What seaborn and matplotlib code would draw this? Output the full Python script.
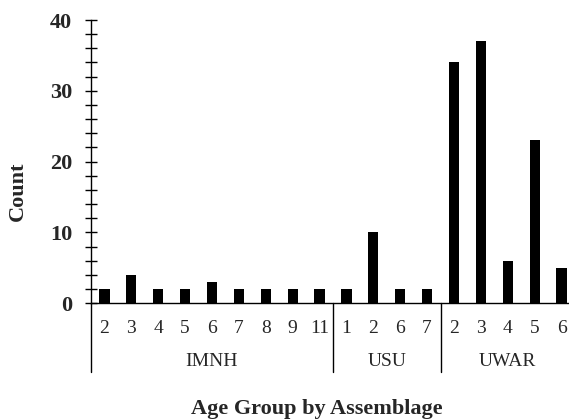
import matplotlib
matplotlib.use("Agg")
import matplotlib.pyplot as plt
import matplotlib.transforms as mtransforms
import seaborn as sns
import pandas as pd

# Counts per age group, split by assemblage
imnh_ages = ["2", "3", "4", "5", "6", "7", "8", "9", "11"]
imnh_counts = [2, 4, 2, 2, 3, 2, 2, 2, 2]
usu_ages = ["1", "2", "6", "7"]
usu_counts = [2, 10, 2, 2]
uwar_ages = ["2", "3", "4", "5", "6"]
uwar_counts = [34, 37, 6, 23, 5]

groups = [("IMNH", imnh_ages, imnh_counts),
          ("USU", usu_ages, usu_counts),
          ("UWAR", uwar_ages, uwar_counts)]

rows = []
for name, ages, counts in groups:
    for a, c in zip(ages, counts):
        rows.append({"key": f"{name} {a}", "age": a, "group": name, "count": c})
df = pd.DataFrame(rows)

sns.set_theme(style="white")
plt.rcParams["font.family"] = ["Liberation Serif", "DejaVu Serif"]

fig = plt.figure(figsize=(5.69, 4.2), dpi=100)
W, H = 569, 420
left, right, bottom, top = 91, 575, 303.3, 20
ax = fig.add_axes([left / W, 1 - bottom / H, (right - left) / W, (bottom - top) / H])

sns.barplot(data=df, x="key", y="count", order=list(df["key"]), color="black",
            width=0.38, saturation=1, ax=ax, edgecolor="none")

ax.set_xlim(-0.5, len(df) - 0.5)
ax.set_ylim(0, 40)
ax.set_yticks([0, 10, 20, 30, 40])
ax.set_yticks(range(0, 41, 2), minor=True)
ax.set_xticks(range(len(df)))
ax.set_xticklabels(df["age"], fontsize=14)
ax.set_yticklabels(["0", "10", "20", "30", "40"], fontsize=16, fontweight="bold")

for s in ["top", "right"]:
    ax.spines[s].set_visible(False)
for s in ["left", "bottom"]:
    ax.spines[s].set_color("black")
    ax.spines[s].set_linewidth(1)

ax.tick_params(axis="y", which="major", direction="inout", length=9, width=1,
               color="black", pad=9, left=True)
ax.tick_params(axis="y", which="minor", direction="inout", length=9, width=1,
               color="black", left=True)
ax.tick_params(axis="x", which="both", length=0, pad=12)

ax.set_xlabel("")
ax.set_ylabel("")
fig.text(18 / W, 1 - 191 / H, "Count", rotation=90, ha="center", va="center",
         fontsize=16, fontweight="bold")
fig.text(317 / W, 1 - 409 / H, "Age Group by Assemblage", ha="center", va="center",
         fontsize=16, fontweight="bold")

# Group separators and assemblage names under the axis
trans = mtransforms.blended_transform_factory(ax.transData, ax.transAxes)
sep_bottom = -(372 - bottom) / (bottom - top)
label_y = -(362 - bottom) / (bottom - top)
start = 0
for name, ages, counts in groups:
    n = len(ages)
    ax.plot([start - 0.5, start - 0.5], [0, sep_bottom], color="black", lw=1,
            transform=trans, clip_on=False)
    ax.text(start + (n - 1) / 2, label_y, name, transform=trans, ha="center",
            va="center", fontsize=14)
    start += n

fig.savefig("out.png", dpi=100, facecolor="white")
